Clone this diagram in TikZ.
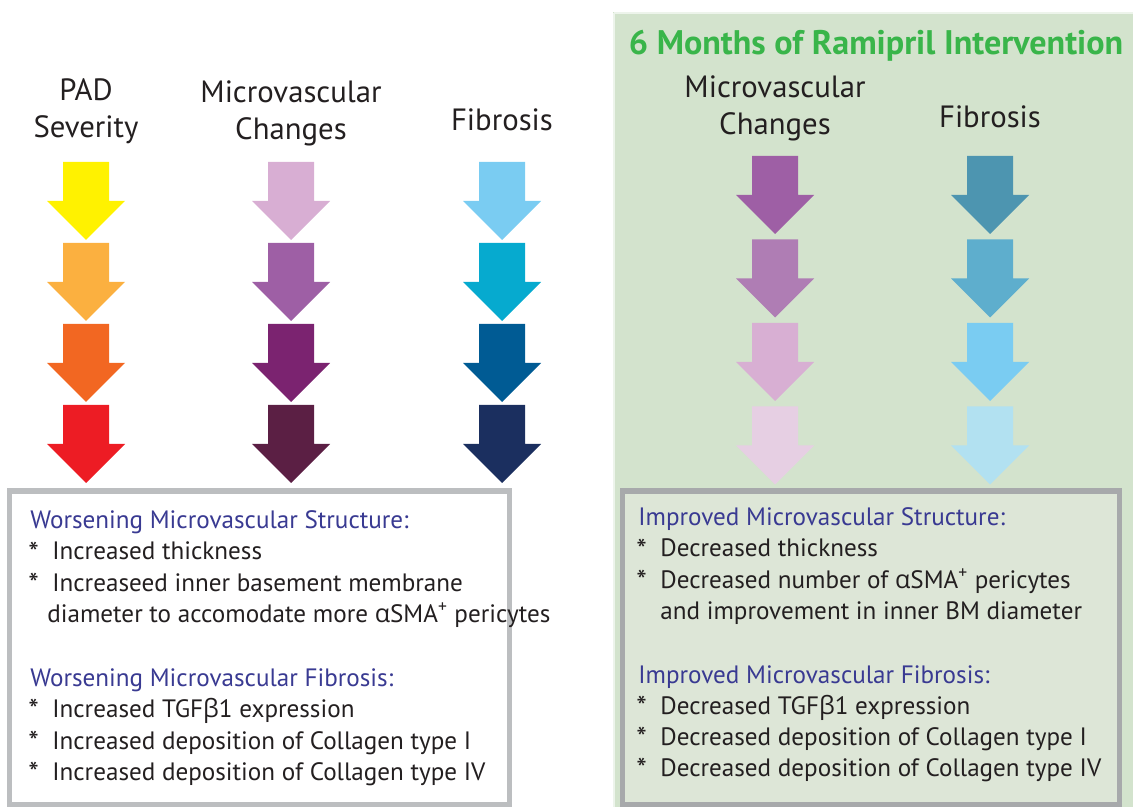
\documentclass[tikz,border=0pt]{standalone}
\usepackage{fontspec}
\setmainfont{PT Sans}
\newfontfamily\grkfont{Open Sans}
\newcommand{\grk}[1]{{\grkfont #1}}
\newcommand{\bulletmark}{\raisebox{-0.25ex}{\fontsize{17}{17}\selectfont *}}

% palette
\definecolor{padA}{HTML}{FFF200}
\definecolor{padB}{HTML}{FBB040}
\definecolor{padC}{HTML}{F26722}
\definecolor{padD}{HTML}{ED1C24}
\definecolor{mvA}{HTML}{D8AED3}
\definecolor{mvB}{HTML}{9E5FA5}
\definecolor{mvC}{HTML}{7B2370}
\definecolor{mvD}{HTML}{5B1F44}
\definecolor{fbA}{HTML}{7ACCF2}
\definecolor{fbB}{HTML}{06AACF}
\definecolor{fbC}{HTML}{005B94}
\definecolor{fbD}{HTML}{1B2F5F}
\definecolor{rmvA}{HTML}{9E5FA5}
\definecolor{rmvB}{HTML}{AF7DB4}
\definecolor{rmvC}{HTML}{D8AFD3}
\definecolor{rmvD}{HTML}{E6CFE3}
\definecolor{rfbA}{HTML}{4D95B0}
\definecolor{rfbB}{HTML}{5EAECD}
\definecolor{rfbC}{HTML}{7ACCF2}
\definecolor{rfbD}{HTML}{B2E1F1}
\definecolor{panelgreen}{HTML}{D3E3CD}
\definecolor{boxgreen}{HTML}{DDE6D7}
\definecolor{titlegreen}{HTML}{39B54A}
\definecolor{navy}{HTML}{393A92}
\definecolor{headblack}{HTML}{231F20}
\definecolor{lightframe}{HTML}{BCBEC0}
\definecolor{darkframe}{HTML}{A7A9AB}

% block arrow pointing down: centre x, top y, colour
\newcommand{\fatarrow}[3]{%
  \fill[#3] (#1-23,#2) -- ++(46,0) -- ++(0,39) -- ++(16,0) -- ++(-39,39)
    -- ++(-39,-39) -- ++(16,0) -- cycle;}

\begin{document}
\begin{tikzpicture}[x=0.02cm,y=-0.02cm,
  head/.style={font=\fontsize{17.5}{21}\selectfont,align=center,text=headblack},
  itemtext/.style={font=\fontsize{14.3}{18}\selectfont,anchor=base west,inner sep=0pt,text=headblack},
  blockhead/.style={itemtext,text=navy}]
\useasboundingbox (0,0) rectangle (1133,807);

% treatment panel
\fill[panelgreen] (613,12) rectangle (1133,807);
\draw[white!60!panelgreen,line width=1pt] (614,13) -- (1133,13) (614,13) -- (614,807);
\node[font=\bfseries\fontsize{19.4}{23}\selectfont,text=titlegreen] (title) at (876,46) {6 Months of Ramipril Intervention};

% column heads
\node[head] (pad) at (86,111) {PAD\\Severity};
\node[head] (mv) at (291,113) {Microvascular\\Changes};
\node[head] (fb) at (502,120) {Fibrosis};
\node[head] (rmv) at (775,108) {Microvascular\\Changes};
\node[head] (rfb) at (990,117) {Fibrosis};

% arrow columns
\foreach \col [count=\i from 0] in {padA,padB,padC,padD}
  \fatarrow{86}{162+81*\i}{\col};
\foreach \col [count=\i from 0] in {mvA,mvB,mvC,mvD}
  \fatarrow{291}{162+81*\i}{\col};
\foreach \col [count=\i from 0] in {fbA,fbB,fbC,fbD}
  \fatarrow{502}{162+81*\i}{\col};
\foreach \col [count=\i from 0] in {rmvA,rmvB,rmvC,rmvD}
  \fatarrow{775}{156+83.5*\i}{\col};
\foreach \col [count=\i from 0] in {rfbA,rfbB,rfbC,rfbD}
  \fatarrow{990}{156+83.5*\i}{\col};

% summary boxes
\draw[lightframe,fill=white,line width=3.4pt] (9.5,491) rectangle (509.5,804.5);
\draw[darkframe,fill=boxgreen,line width=3.4pt] (622.5,491) rectangle (1119.5,804.5);

% left box text
\node[blockhead] (ws) at (30,528) {Worsening Microvascular Structure:};
\node[itemtext] (ws1) at (28,560) {\bulletmark};
\node[itemtext] (ws1t) at (52,560) {Increased thickness};
\node[itemtext] (ws2) at (28,591) {\bulletmark};
\node[itemtext] (ws2t) at (52,591) {Increaseed inner basement membrane};
\node[itemtext] (ws2c) at (47,622) {diameter to accomodate more \grk{α}SMA\textsuperscript{+} pericytes};
\node[blockhead] (wf) at (30,686) {Worsening Microvascular Fibrosis:};
\node[itemtext] (wf1) at (28,717) {\bulletmark};
\node[itemtext] (wf1t) at (52,717) {Increased TGF\grk{β}1 expression};
\node[itemtext] (wf2) at (28,749) {\bulletmark};
\node[itemtext] (wf2t) at (52,749) {Increased deposition of Collagen type I};
\node[itemtext] (wf3) at (28,780) {\bulletmark};
\node[itemtext] (wf3t) at (52,780) {Increased deposition of Collagen type IV};

% right box text
\node[blockhead] (is) at (638,525) {Improved Microvascular Structure:};
\node[itemtext] (is1) at (636,557) {\bulletmark};
\node[itemtext] (is1t) at (660,557) {Decreased thickness};
\node[itemtext] (is2) at (636,588) {\bulletmark};
\node[itemtext] (is2t) at (660,588) {Decreased number of \grk{α}SMA\textsuperscript{+} pericytes};
\node[itemtext] (is2c) at (660,619) {and improvement in inner BM diameter};
\node[blockhead] (if) at (638,683) {Improved Microvascular Fibrosis:};
\node[itemtext] (if1) at (636,714) {\bulletmark};
\node[itemtext] (if1t) at (660,714) {Decreased TGF\grk{β}1 expression};
\node[itemtext] (if2) at (636,745) {\bulletmark};
\node[itemtext] (if2t) at (660,745) {Decreased deposition of Collagen type I};
\node[itemtext] (if3) at (636,776) {\bulletmark};
\node[itemtext] (if3t) at (660,776) {Decreased deposition of Collagen type IV};
\end{tikzpicture}
\end{document}
